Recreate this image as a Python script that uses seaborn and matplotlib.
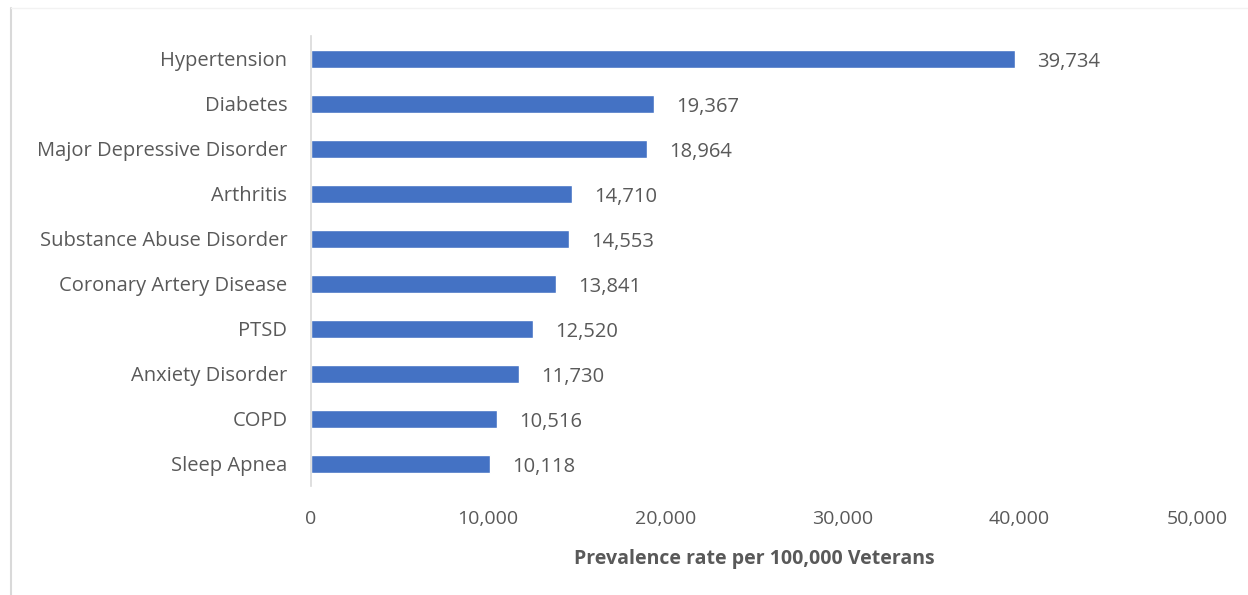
import seaborn as sns
import matplotlib.pyplot as plt
from matplotlib.lines import Line2D

conditions = [
    "Hypertension", "Diabetes", "Major Depressive Disorder", "Arthritis",
    "Substance Abuse Disorder", "Coronary Artery Disease", "PTSD",
    "Anxiety Disorder", "COPD", "Sleep Apnea",
]
rates = [39734, 19367, 18964, 14710, 14553, 13841, 12520, 11730, 10516, 10118]
x_ticks = [0, 10000, 20000, 30000, 40000, 50000]

sns.set_style("white")
plt.rcParams["font.family"] = ["Open Sans", "DejaVu Sans"]
text_color = "#595959"

fig = plt.figure(figsize=(12.48, 5.95), dpi=100)
ax = fig.add_axes([0.2492, 0.1824, 0.7098, 0.7563])

sns.barplot(x=rates, y=conditions, color="#4472C4", width=0.4, saturation=1, ax=ax)

labels = ax.bar_label(ax.containers[0], labels=[f"{v:,}" for v in rates], padding=16,
                      fontsize=14.5, color=text_color)
for t in labels:
    t.xyann = (16, -2.5)

ax.set_xlim(0, 50000)
ax.set_xticks(x_ticks)
ax.set_xticklabels([f"{t:,}" for t in x_ticks], fontsize=14, color=text_color)
ax.tick_params(axis="x", length=0, pad=17)
ax.tick_params(axis="y", length=0, pad=17, labelsize=14.5, labelcolor=text_color)
ax.set_xlabel("Prevalence rate per 100,000 Veterans", fontsize=14,
              fontweight="bold", color=text_color, labelpad=15)
ax.set_ylabel("")

for side in ["top", "right", "bottom"]:
    ax.spines[side].set_visible(False)
ax.spines["left"].set_color("#D9D9D9")
ax.spines["left"].set_linewidth(1.2)

# chart area frame
fig.add_artist(Line2D([0.0088, 0.0088], [0, 0.987], color="#D9D9D9", lw=1.5,
                      transform=fig.transFigure))
fig.add_artist(Line2D([0.0088, 1], [0.987, 0.987], color="#F2F2F2", lw=1,
                      transform=fig.transFigure))

fig.savefig("out.png", dpi=100)
